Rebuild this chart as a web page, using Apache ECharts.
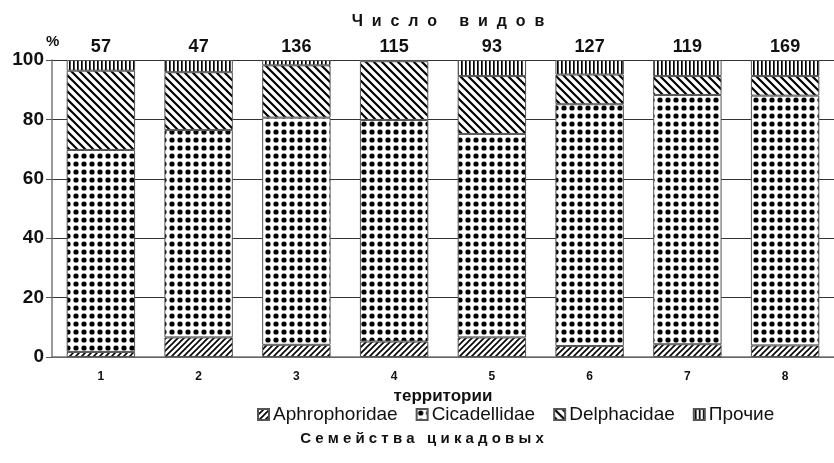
<!DOCTYPE html>
<html>
<head>
<meta charset="utf-8">
<script src="https://cdn.jsdelivr.net/npm/echarts@6/dist/echarts.min.js"></script>
<style>
  html, body { margin: 0; padding: 0; background: #fff; }
  #chart { width: 834px; height: 463px; }
</style>
</head>
<body>
<div id="chart"></div>
<script>
// territories and number of species per territory
var territories = ['1', '2', '3', '4', '5', '6', '7', '8']
var speciesCount = ['57', '47', '136', '115', '93', '127', '119', '169']

// share of each family, %
var aphrophoridae = [1.7, 6.6, 4.1, 5.2, 6.6, 3.7, 4.3, 3.9]
var cicadellidae = [68.0, 69.8, 76.5, 74.6, 68.5, 81.4, 83.9, 84.1]
var delphacidae = [26.7, 19.5, 17.6, 19.8, 19.5, 10.0, 6.4, 6.6]
var prochie = [3.6, 4.1, 1.8, 0.4, 5.4, 4.9, 5.4, 5.4]

var yTicks = [0, 20, 40, 60, 80, 100]

function makePattern (size, draw) {
  var c = document.createElement('canvas')
  c.width = size
  c.height = size
  var ctx = c.getContext('2d')
  ctx.fillStyle = '#fff'
  ctx.fillRect(0, 0, size, size)
  ctx.strokeStyle = '#000'
  ctx.fillStyle = '#000'
  draw(ctx, size)
  return { image: c, repeat: 'repeat' }
}

// "/" hatch
var patAphro = makePattern(6, function (ctx, s) {
  ctx.lineWidth = 1.6
  ctx.beginPath()
  ctx.moveTo(-1, s + 1); ctx.lineTo(s + 1, -1)
  ctx.moveTo(-1, 1); ctx.lineTo(1, -1)
  ctx.moveTo(s - 1, s + 1); ctx.lineTo(s + 1, s - 1)
  ctx.stroke()
})
// dots
var patCicad = makePattern(8, function (ctx, s) {
  ctx.beginPath()
  ctx.arc(4, 4, 2.6, 0, Math.PI * 2)
  ctx.fill()
})
// "\" hatch
var patDelph = makePattern(8, function (ctx, s) {
  ctx.lineWidth = 2.2
  ctx.beginPath()
  ctx.moveTo(-1, -1); ctx.lineTo(s + 1, s + 1)
  ctx.moveTo(s - 1, -1); ctx.lineTo(s + 1, 1)
  ctx.moveTo(-1, s - 1); ctx.lineTo(1, s + 1)
  ctx.stroke()
})
// vertical lines
var patOther = makePattern(4, function (ctx, s) {
  ctx.fillRect(1, 0, 1.7, s)
})

var font = 'Liberation Sans, Arial, sans-serif'

function spaced (str, gap) {
  return str.split('').join(gap)
}

function bar (name, data, pattern) {
  return {
    name: name,
    type: 'bar',
    stack: 'total',
    barWidth: '70%',
    data: data,
    itemStyle: {
      color: pattern,
      borderColor: '#555',
      borderWidth: 1
    }
  }
}

var chart = echarts.init(document.getElementById('chart'))
chart.setOption({
  animation: false,
  textStyle: { fontFamily: font },
  grid: { left: 52, top: 60, right: -9, bottom: 106 },
  title: [
    {
      text: spaced('Число видов', '  '),
      left: 443,
      top: 9,
      textAlign: 'center',
      textStyle: { fontSize: 16, fontWeight: 'bold', color: '#111' }
    },
    {
      text: spaced('Семейства цикадовых', ' '),
      left: 417,
      top: 426,
      textAlign: 'center',
      textStyle: { fontSize: 15, fontWeight: 'bold', color: '#111' }
    },
    {
      text: '%',
      left: 41,
      top: 29,
      textStyle: { fontSize: 15, fontWeight: 'bold', color: '#111' }
    }
  ],
  legend: {
    top: 400,
    left: 252,
    itemWidth: 11,
    itemHeight: 11,
    itemGap: 18,
    icon: 'rect',
    textStyle: { fontSize: 19, color: '#111', fontFamily: font, padding: [0, 0, 0, -1] },
    data: ['Aphrophoridae', 'Cicadellidae', 'Delphacidae', 'Прочие']
  },
  xAxis: [
    {
      type: 'category',
      data: territories,
      name: 'территории',
      nameLocation: 'middle',
      nameGap: 28,
      nameTextStyle: { fontSize: 17, fontWeight: 'bold', color: '#111' },
      axisLine: { lineStyle: { color: '#777', width: 1.5 } },
      axisTick: { length: 6, lineStyle: { color: '#777', width: 1.5 } },
      axisLabel: { fontSize: 12, fontWeight: 'bold', color: '#111', margin: 14 }
    },
    {
      type: 'category',
      data: speciesCount,
      position: 'top',
      axisLine: { show: false },
      axisTick: { show: false },
      axisLabel: { fontSize: 18, fontWeight: 'bold', color: '#111', margin: 4 }
    }
  ],
  yAxis: {
    type: 'value',
    min: yTicks[0],
    max: yTicks[yTicks.length - 1],
    interval: 20,
    axisLine: { show: true, lineStyle: { color: '#777', width: 1.5 } },
    axisTick: { show: true, length: 6, lineStyle: { color: '#555' } },
    axisLabel: { fontSize: 19, fontWeight: 'bold', color: '#111', margin: 8 },
    splitLine: { lineStyle: { color: '#333', width: 1 } }
  },
  series: [
    bar('Aphrophoridae', aphrophoridae, patAphro),
    bar('Cicadellidae', cicadellidae, patCicad),
    bar('Delphacidae', delphacidae, patDelph),
    bar('Прочие', prochie, patOther)
  ]
})
</script>
</body>
</html>
